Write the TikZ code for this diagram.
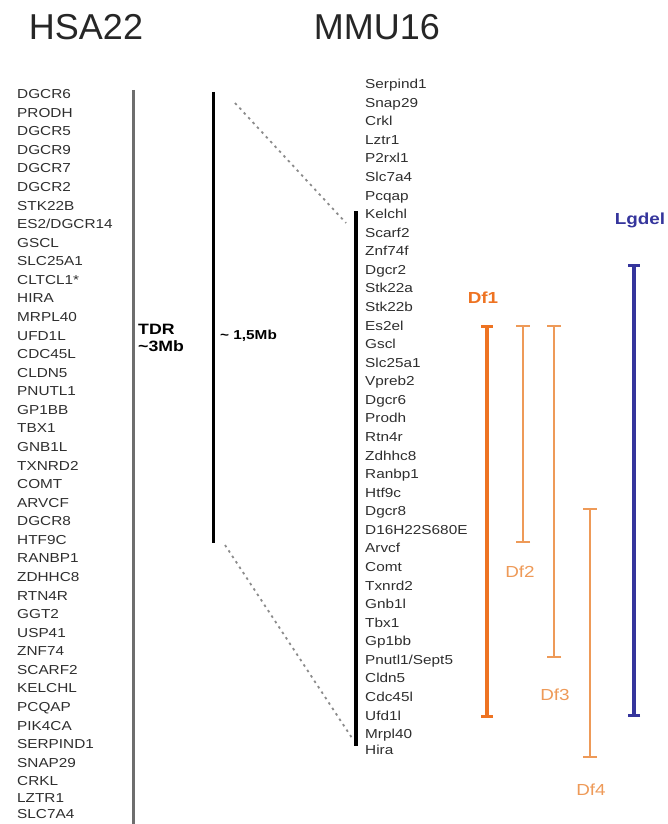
\documentclass[tikz,border=0pt]{standalone}
\usepackage{fontspec}
\setmainfont{Liberation Sans}
\newfontfamily\genefont[FakeStretch=1.18]{Liberation Sans}
\usetikzlibrary{arrows.meta}
\definecolor{genegray}{HTML}{2E2E2E}
\definecolor{chrgray}{HTML}{6E6E6E}
\definecolor{dforange}{HTML}{EE7322}
\definecolor{dflight}{HTML}{EE9A58}
\definecolor{lgblue}{HTML}{35359C}
\begin{document}
\begin{tikzpicture}[x=1pt,y=-1pt,
  gene/.style={anchor=west, inner sep=0pt, text height=9.3pt, text depth=0pt,
    font=\genefont\fontsize{13}{13}\selectfont, text=genegray},
  heading/.style={inner sep=0pt, font=\fontsize{36}{36}\selectfont, text=black!85},
  sizelabel/.style={inner sep=0pt, anchor=west, font=\genefont\bfseries\fontsize{15}{17}\selectfont, align=left},
  chrline/.style={line width=3pt},
  mapline/.style={chrgray!80, line width=1.8pt, dash pattern=on 2.5pt off 4pt},
  dfbar/.style={line width=2pt, dflight, {Bar[width=14pt,line width=2pt]}-{Bar[width=14pt,line width=2pt]}},
  dflabel/.style={inner sep=0pt, text=dflight, font=\genefont\fontsize{16}{16}\selectfont}]
\useasboundingbox (0,0) rectangle (667,824);

% headings
\node[heading] (hsa) at (86,27) {HSA22};
\node[heading] (mmu) at (377,27) {MMU16};

% human genes
\foreach \g [count=\i from 0] in {DGCR6,PRODH,DGCR5,DGCR9,DGCR7,DGCR2,STK22B,ES2/DGCR14,GSCL,SLC25A1,CLTCL1*,HIRA,MRPL40,UFD1L,CDC45L,CLDN5,PNUTL1,GP1BB,TBX1,GNB1L,TXNRD2,COMT,ARVCF,DGCR8,HTF9C,RANBP1,ZDHHC8,RTN4R,GGT2,USP41,ZNF74,SCARF2,KELCHL,PCQAP,PIK4CA,SERPIND1,SNAP29,CRKL}
  \node[gene] (h\i) at (17,{94+18.57*\i}) {\g};
\node[gene] (h38) at (17,798) {LZTR1};
\node[gene] (h39) at (17,814) {SLC7A4};

% mouse genes
\foreach \g [count=\i from 0] in {Serpind1,Snap29,Crkl,Lztr1,P2rxl1,Slc7a4,Pcqap,Kelchl,Scarf2,Znf74f,Dgcr2,Stk22a,Stk22b,Es2el,Gscl,Slc25a1,Vpreb2,Dgcr6,Prodh,Rtn4r,Zdhhc8,Ranbp1,Htf9c,Dgcr8,D16H22S680E,Arvcf,Comt,Txnrd2,Gnb1l,Tbx1,Gp1bb,Pnutl1/Sept5,Cldn5,Cdc45l,Ufd1l,Mrpl40}
  \node[gene] (m\i) at (365,{84+18.57*\i}) {\g};
\node[gene] (m36) at (365,750) {Hira};

% chromosome lines
\coordinate (tdrA) at (133,90);
\coordinate (tdrB) at (133,824);
\coordinate (lcrA) at (213,92);
\coordinate (lcrB) at (213,543);
\coordinate (mmuA) at (356,211);
\coordinate (mmuB) at (356,746);
\draw[chrline, chrgray] (tdrA) -- (tdrB);
\draw[chrline, black] (lcrA) -- (lcrB);
\draw[chrline, black, line width=3.5pt] (mmuA) -- (mmuB);

% size labels
\node[sizelabel] (tdr) at (138,338) {TDR\\\textasciitilde 3Mb};
\node[sizelabel, font=\genefont\bfseries\fontsize{13}{13}\selectfont] (half) at (220,336) {\textasciitilde\ 1,5Mb};

% mapping lines
\coordinate (mapA1) at (235,103);
\coordinate (mapA2) at (346,223);
\coordinate (mapB1) at (225,545);
\coordinate (mapB2) at (352,738);
\draw[mapline] (mapA1) -- (mapA2);
\draw[mapline] (mapB1) -- (mapB2);

% deletions
\coordinate (df1a) at (487,325);
\coordinate (df1b) at (487,718);
\coordinate (df2a) at (523,325);
\coordinate (df2b) at (523,543);
\coordinate (df3a) at (554,325);
\coordinate (df3b) at (554,658);
\coordinate (df4a) at (590,508);
\coordinate (df4b) at (590,758);
\coordinate (lga) at (634,264);
\coordinate (lgb) at (634,717);
\draw[dfbar, dforange, line width=4pt, {Bar[width=12pt,line width=3pt]}-{Bar[width=12pt,line width=3pt]}] (df1a) -- (df1b);
\draw[dfbar] (df2a) -- (df2b);
\draw[dfbar] (df3a) -- (df3b);
\draw[dfbar] (df4a) -- (df4b);
\draw[dfbar, lgblue, line width=4pt, {Bar[width=12pt,line width=3pt]}-{Bar[width=12pt,line width=3pt]}] (lga) -- (lgb);

\node[dflabel, text=dforange, font=\genefont\bfseries\fontsize{16}{16}\selectfont] (df1) at (483,298) {Df1};
\node[dflabel] (df2) at (520,572) {Df2};
\node[dflabel] (df3) at (555,695) {Df3};
\node[dflabel] (df4) at (591,790) {Df4};
\node[dflabel, text=lgblue, font=\genefont\bfseries\fontsize{16}{16}\selectfont] (lgdel) at (640,220) {Lgdel};
\end{tikzpicture}
\end{document}
